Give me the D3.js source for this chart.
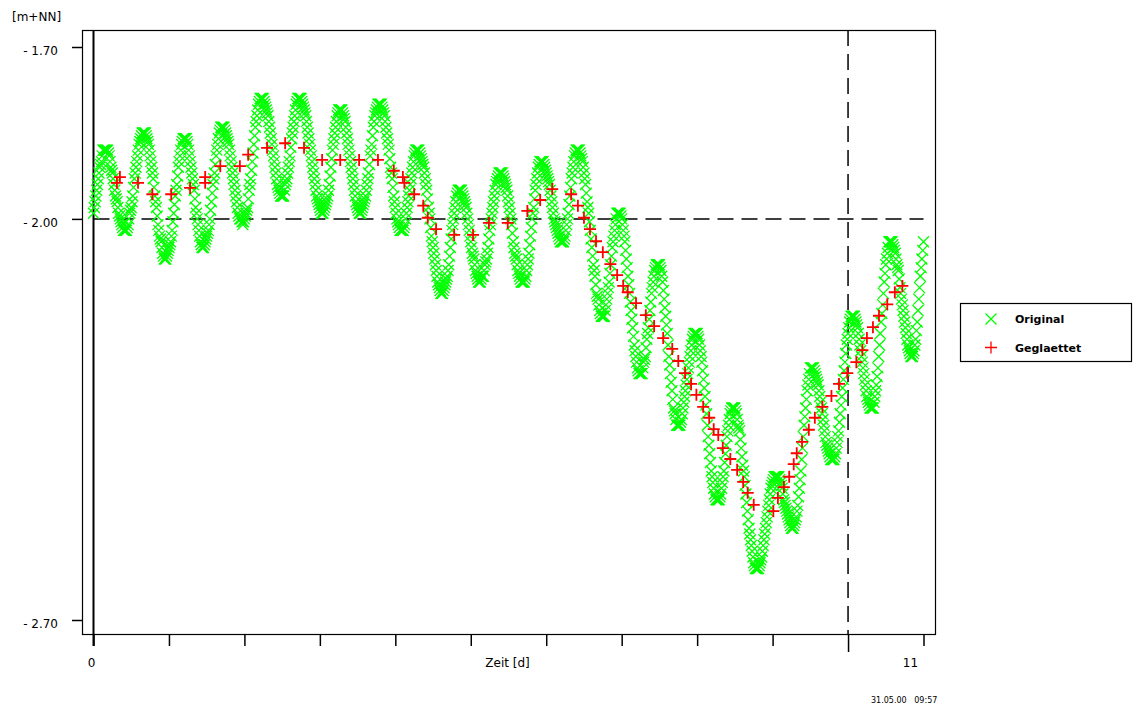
<!DOCTYPE html>
<html>
<head>
<meta charset="utf-8">
<script src="https://cdn.jsdelivr.net/npm/d3@7"></script>
<style>
  body { margin: 0; background: #fff; }
  svg { display: block; font-family: "DejaVu Sans", sans-serif; }
</style>
</head>
<body>
<div id="chart"></div>
<script>
// Wasserstand [m+NN], Originalwerte alle 15 min von Tag 0 bis Tag 11
var originalWerte = [
  -1.99,-1.98,-1.97,-1.96,-1.95,-1.94,-1.93,-1.92,-1.91,-1.905,-1.90,-1.89,-1.88,-1.88,-1.88,-1.88,
  -1.88,-1.88,-1.88,-1.885,-1.89,-1.90,-1.91,-1.915,-1.92,-1.93,-1.94,-1.95,-1.96,-1.965,-1.97,-1.98,-1.99,-1.995,-2.00,-2.005,-2.01,-2.015,-2.02,-2.02,-2.02,-2.02,
  -2.02,-2.015,-2.01,-2.00,-1.99,-1.985,-1.98,-1.97,-1.96,-1.945,-1.93,-1.92,-1.91,-1.90,-1.89,-1.88,-1.87,-1.865,-1.86,-1.855,-1.85,-1.85,-1.85,-1.85,
  -1.85,-1.855,-1.86,-1.865,-1.87,-1.88,-1.89,-1.90,-1.91,-1.92,-1.93,-1.945,-1.96,-1.97,-1.98,-1.995,-2.01,-2.02,-2.03,-2.035,-2.04,-2.05,-2.06,-2.065,-2.07,-2.07,-2.07,-2.065,
  -2.06,-2.055,-2.05,-2.045,-2.04,-2.03,-2.02,-2.005,-1.99,-1.975,-1.96,-1.95,-1.94,-1.925,-1.91,-1.90,-1.89,-1.88,-1.87,-1.865,-1.86,-1.86,-1.86,-1.86,
  -1.86,-1.865,-1.87,-1.88,-1.89,-1.90,-1.91,-1.92,-1.93,-1.94,-1.95,-1.965,-1.98,-1.99,-2.00,-2.01,-2.02,-2.03,-2.04,-2.045,-2.05,-2.05,-2.05,-2.045,
  -2.04,-2.035,-2.03,-2.025,-2.02,-2.01,-2.00,-1.985,-1.97,-1.955,-1.94,-1.93,-1.92,-1.905,-1.89,-1.88,-1.87,-1.86,-1.85,-1.845,-1.84,-1.84,-1.84,-1.84,
  -1.84,-1.845,-1.85,-1.855,-1.86,-1.865,-1.87,-1.88,-1.89,-1.90,-1.91,-1.92,-1.93,-1.94,-1.95,-1.96,-1.97,-1.98,-1.99,-1.995,-2.00,-2.00,-2.00,-2.005,-2.01,-2.005,
  -2.00,-1.995,-1.99,-1.985,-1.98,-1.965,-1.95,-1.94,-1.93,-1.915,-1.90,-1.885,-1.87,-1.855,-1.84,-1.83,-1.82,-1.81,-1.80,-1.795,-1.79,-1.79,-1.79,-1.79,
  -1.79,-1.795,-1.80,-1.805,-1.81,-1.815,-1.82,-1.83,-1.84,-1.85,-1.86,-1.87,-1.88,-1.89,-1.90,-1.91,-1.92,-1.93,-1.94,-1.945,-1.95,-1.955,-1.96,-1.96,-1.96,-1.96,
  -1.96,-1.95,-1.94,-1.935,-1.93,-1.92,-1.91,-1.90,-1.89,-1.875,-1.86,-1.85,-1.84,-1.83,-1.82,-1.81,-1.80,-1.795,-1.79,-1.79,-1.79,-1.79,
  -1.79,-1.795,-1.80,-1.805,-1.81,-1.815,-1.82,-1.83,-1.84,-1.85,-1.86,-1.87,-1.88,-1.89,-1.90,-1.91,-1.92,-1.93,-1.94,-1.95,-1.96,-1.965,-1.97,-1.975,-1.98,-1.985,-1.99,-1.99,-1.99,-1.985,
  -1.98,-1.975,-1.97,-1.965,-1.96,-1.95,-1.94,-1.925,-1.91,-1.895,-1.88,-1.87,-1.86,-1.85,-1.84,-1.83,-1.82,-1.815,-1.81,-1.81,-1.81,-1.81,
  -1.81,-1.815,-1.82,-1.825,-1.83,-1.84,-1.85,-1.86,-1.87,-1.88,-1.89,-1.90,-1.91,-1.92,-1.93,-1.94,-1.95,-1.96,-1.97,-1.975,-1.98,-1.985,-1.99,-1.99,-1.99,-1.985,
  -1.98,-1.975,-1.97,-1.965,-1.96,-1.95,-1.94,-1.93,-1.92,-1.905,-1.89,-1.88,-1.87,-1.855,-1.84,-1.83,-1.82,-1.815,-1.81,-1.805,-1.80,-1.80,-1.80,-1.80,
  -1.80,-1.805,-1.81,-1.815,-1.82,-1.83,-1.84,-1.85,-1.86,-1.87,-1.88,-1.895,-1.91,-1.92,-1.93,-1.945,-1.96,-1.97,-1.98,-1.99,-2.00,-2.005,-2.01,-2.015,-2.02,-2.02,-2.02,-2.02,
  -2.02,-2.015,-2.01,-2.00,-1.99,-1.98,-1.97,-1.96,-1.95,-1.94,-1.93,-1.92,-1.91,-1.90,-1.89,-1.885,-1.88,-1.88,-1.88,-1.88,
  -1.88,-1.885,-1.89,-1.895,-1.90,-1.905,-1.91,-1.92,-1.93,-1.94,-1.95,-1.965,-1.98,-1.99,-2.00,-2.015,-2.03,-2.04,-2.05,-2.06,-2.07,-2.08,-2.09,-2.10,-2.11,-2.115,-2.12,-2.125,-2.13,-2.13,-2.13,-2.125,
  -2.12,-2.115,-2.11,-2.105,-2.10,-2.09,-2.08,-2.065,-2.05,-2.035,-2.02,-2.01,-2.00,-1.99,-1.98,-1.97,-1.96,-1.955,-1.95,-1.95,-1.95,-1.95,
  -1.95,-1.955,-1.96,-1.965,-1.97,-1.975,-1.98,-1.99,-2.00,-2.01,-2.02,-2.03,-2.04,-2.05,-2.06,-2.065,-2.07,-2.08,-2.09,-2.095,-2.10,-2.105,-2.11,-2.11,-2.11,-2.105,
  -2.10,-2.10,-2.10,-2.09,-2.08,-2.075,-2.07,-2.06,-2.05,-2.035,-2.02,-2.01,-2.00,-1.99,-1.98,-1.97,-1.96,-1.95,-1.94,-1.935,-1.93,-1.925,-1.92,-1.92,-1.92,-1.92,
  -1.92,-1.925,-1.93,-1.935,-1.94,-1.945,-1.95,-1.96,-1.97,-1.98,-1.99,-2.00,-2.01,-2.025,-2.04,-2.05,-2.06,-2.065,-2.07,-2.08,-2.09,-2.095,-2.10,-2.105,-2.11,-2.11,-2.11,-2.11,
  -2.11,-2.105,-2.10,-2.09,-2.08,-2.07,-2.06,-2.045,-2.03,-2.015,-2.00,-1.99,-1.98,-1.965,-1.95,-1.94,-1.93,-1.92,-1.91,-1.905,-1.90,-1.90,-1.90,-1.90,
  -1.90,-1.905,-1.91,-1.915,-1.92,-1.925,-1.93,-1.935,-1.94,-1.95,-1.96,-1.97,-1.98,-1.99,-2.00,-2.005,-2.01,-2.015,-2.02,-2.025,-2.03,-2.035,-2.04,-2.04,-2.04,-2.04,
  -2.04,-2.035,-2.03,-2.02,-2.01,-2.00,-1.99,-1.975,-1.96,-1.945,-1.93,-1.92,-1.91,-1.90,-1.89,-1.885,-1.88,-1.88,-1.88,-1.88,
  -1.88,-1.885,-1.89,-1.895,-1.90,-1.91,-1.92,-1.93,-1.94,-1.955,-1.97,-1.98,-1.99,-2.005,-2.02,-2.035,-2.05,-2.065,-2.08,-2.09,-2.10,-2.115,-2.13,-2.135,-2.14,-2.15,-2.16,-2.165,-2.17,-2.17,-2.17,-2.17,
  -2.17,-2.16,-2.15,-2.14,-2.13,-2.12,-2.11,-2.095,-2.08,-2.065,-2.05,-2.04,-2.03,-2.02,-2.01,-2.00,-1.99,-1.99,-1.99,-1.99,
  -1.99,-1.995,-2.00,-2.01,-2.02,-2.03,-2.04,-2.055,-2.07,-2.085,-2.10,-2.115,-2.13,-2.145,-2.16,-2.175,-2.19,-2.205,-2.22,-2.23,-2.24,-2.25,-2.26,-2.265,-2.27,-2.27,-2.27,-2.27,
  -2.27,-2.26,-2.25,-2.245,-2.24,-2.225,-2.21,-2.20,-2.19,-2.175,-2.16,-2.145,-2.13,-2.12,-2.11,-2.10,-2.09,-2.085,-2.08,-2.08,-2.08,-2.08,
  -2.08,-2.085,-2.09,-2.10,-2.11,-2.125,-2.14,-2.155,-2.17,-2.185,-2.20,-2.22,-2.24,-2.255,-2.27,-2.285,-2.30,-2.315,-2.33,-2.335,-2.34,-2.35,-2.36,-2.36,-2.36,-2.36,
  -2.36,-2.355,-2.35,-2.34,-2.33,-2.32,-2.31,-2.30,-2.29,-2.28,-2.27,-2.26,-2.25,-2.24,-2.23,-2.22,-2.21,-2.205,-2.20,-2.20,-2.20,-2.20,
  -2.20,-2.205,-2.21,-2.22,-2.23,-2.24,-2.25,-2.265,-2.28,-2.295,-2.31,-2.325,-2.34,-2.36,-2.38,-2.395,-2.41,-2.425,-2.44,-2.45,-2.46,-2.47,-2.48,-2.485,-2.49,-2.49,-2.49,-2.49,
  -2.49,-2.485,-2.48,-2.47,-2.46,-2.45,-2.44,-2.425,-2.41,-2.395,-2.38,-2.37,-2.36,-2.35,-2.34,-2.335,-2.33,-2.33,-2.33,-2.33,
  -2.33,-2.335,-2.34,-2.35,-2.36,-2.365,-2.37,-2.385,-2.40,-2.415,-2.43,-2.44,-2.45,-2.465,-2.48,-2.495,-2.51,-2.525,-2.54,-2.55,-2.56,-2.57,-2.58,-2.59,-2.60,-2.605,-2.61,-2.61,-2.61,-2.61,
  -2.61,-2.605,-2.60,-2.595,-2.59,-2.58,-2.57,-2.56,-2.55,-2.54,-2.53,-2.52,-2.51,-2.50,-2.49,-2.48,-2.47,-2.465,-2.46,-2.455,-2.45,-2.45,-2.45,-2.45,
  -2.45,-2.45,-2.45,-2.455,-2.46,-2.465,-2.47,-2.48,-2.49,-2.495,-2.50,-2.505,-2.51,-2.515,-2.52,-2.525,-2.53,-2.535,-2.54,-2.54,-2.54,-2.535,
  -2.53,-2.525,-2.52,-2.51,-2.50,-2.485,-2.47,-2.455,-2.44,-2.42,-2.40,-2.38,-2.36,-2.345,-2.33,-2.315,-2.30,-2.29,-2.28,-2.27,-2.26,-2.26,-2.26,-2.26,
  -2.26,-2.265,-2.27,-2.275,-2.28,-2.285,-2.29,-2.30,-2.31,-2.32,-2.33,-2.34,-2.35,-2.36,-2.37,-2.38,-2.39,-2.395,-2.40,-2.405,-2.41,-2.415,-2.42,-2.42,-2.42,-2.42,
  -2.42,-2.415,-2.41,-2.40,-2.39,-2.38,-2.37,-2.355,-2.34,-2.325,-2.31,-2.295,-2.28,-2.265,-2.25,-2.235,-2.22,-2.21,-2.20,-2.19,-2.18,-2.175,-2.17,-2.17,-2.17,-2.17,
  -2.17,-2.175,-2.18,-2.185,-2.19,-2.20,-2.21,-2.22,-2.23,-2.24,-2.25,-2.26,-2.27,-2.28,-2.29,-2.30,-2.31,-2.315,-2.32,-2.325,-2.33,-2.33,-2.33,-2.33,
  -2.33,-2.32,-2.31,-2.30,-2.29,-2.275,-2.26,-2.24,-2.22,-2.20,-2.18,-2.165,-2.15,-2.13,-2.11,-2.095,-2.08,-2.07,-2.06,-2.05,-2.04,-2.04,-2.04,-2.04,
  -2.04,-2.045,-2.05,-2.055,-2.06,-2.07,-2.08,-2.085,-2.09,-2.105,-2.12,-2.13,-2.14,-2.15,-2.16,-2.17,-2.18,-2.19,-2.20,-2.21,-2.22,-2.225,-2.23,-2.235,-2.24,-2.24,-2.24,-2.235,
  -2.23,-2.22,-2.21,-2.195,-2.18,-2.16,-2.14,-2.12,-2.10,-2.085,-2.07,-2.055,-2.04
];
var originalStartTag = 0;
var originalEndTag = 11;

// geglaettete Werte
var glattTage = [
  0.31, 0.35, 0.59, 0.78, 1.03, 1.28, 1.48, 1.48, 1.68, 1.94,
  2.05, 2.30, 2.54, 2.79, 3.03, 3.27, 3.52, 3.77, 3.98, 4.10,
  4.12, 4.25, 4.37, 4.43, 4.54, 4.78, 5.03, 5.24, 5.49, 5.75,
  5.92, 6.08, 6.33, 6.42, 6.50, 6.58, 6.66, 6.75, 6.85, 6.94,
  7.02, 7.08, 7.19, 7.32, 7.43, 7.55, 7.67, 7.75, 7.84, 7.92,
  7.99, 8.08, 8.16, 8.22, 8.28, 8.34, 8.44, 8.53, 8.61, 8.67,
  8.75, 9.01, 9.07, 9.15, 9.22, 9.28, 9.32, 9.39, 9.48, 9.56,
  9.66, 9.78, 9.88, 9.99, 10.11, 10.19, 10.25, 10.33, 10.41, 10.52,
  10.62, 10.72
];
var glattWerte = [
  -1.937, -1.927, -1.937, -1.957, -1.957, -1.946, -1.927, -1.937, -1.908, -1.908,
  -1.888, -1.876, -1.868, -1.876, -1.897, -1.897, -1.897, -1.897, -1.916, -1.927,
  -1.937, -1.957, -1.977, -1.998, -2.018, -2.028, -2.028, -2.007, -2.007, -1.986,
  -1.967, -1.948, -1.957, -1.977, -1.998, -2.018, -2.039, -2.058, -2.079, -2.098,
  -2.117, -2.128, -2.147, -2.168, -2.187, -2.208, -2.227, -2.248, -2.269, -2.288,
  -2.307, -2.328, -2.347, -2.367, -2.377, -2.400, -2.419, -2.438, -2.459, -2.478,
  -2.499, -2.510, -2.487, -2.468, -2.450, -2.428, -2.409, -2.389, -2.368, -2.347,
  -2.328, -2.309, -2.288, -2.269, -2.250, -2.229, -2.208, -2.189, -2.169, -2.149,
  -2.128, -2.117
];

var yTickWerte = [-1.70, -2.00, -2.70];
var yTickTexte = ["- 1.70", "- 2.00", "- 2.70"];
var xTickWerte = [0, 1, 2, 3, 4, 5, 6, 7, 8, 9, 10, 11];
var xTickTexte = ["0", "", "", "", "", "", "", "", "", "", "", "11"];
var bezugsWert = -2.00;
var bezugsTag = 10;
var legendeNamen = ["Original", "Geglaettet"];

var svgWidth = 1136;
var svgHeight = 705;

var rahmen = { left: 82, top: 30, right: 935, bottom: 634 };

var svg = d3.select("#chart")
  .append("svg")
  .attr("width", svgWidth)
  .attr("height", svgHeight);

var xScale = d3.scaleLinear()
  .domain([0, 11])
  .range([93.5, 923.5]);

var yScale = d3.scaleLinear()
  .domain([-1.70, -2.70])
  .range([47, 620]);

// Rahmen
svg.append("rect")
  .attr("x", rahmen.left + 0.5)
  .attr("y", rahmen.top + 0.5)
  .attr("width", rahmen.right - rahmen.left)
  .attr("height", rahmen.bottom - rahmen.top)
  .attr("fill", "none")
  .attr("stroke", "#000")
  .attr("stroke-width", 1.2);

// y-Achse
var yAxis = d3.axisLeft(yScale)
  .tickValues(yTickWerte)
  .tickSize(10)
  .tickPadding(14)
  .tickFormat(function(d, i) { return yTickTexte[i]; });

var yG = svg.append("g")
  .attr("transform", "translate(" + rahmen.left + ",0)")
  .call(yAxis);
yG.select(".domain").remove();
yG.selectAll("line").attr("stroke-width", 1.5);
yG.selectAll("text")
  .attr("font-size", 12)
  .attr("font-family", "DejaVu Sans")
  .attr("fill", "#000")
  .attr("dy", "0.62em");

// x-Achse
var xAxis = d3.axisBottom(xScale)
  .tickValues(xTickWerte)
  .tickSize(12)
  .tickFormat("");

var xG = svg.append("g")
  .attr("transform", "translate(0," + rahmen.bottom + ")")
  .call(xAxis);
xG.select(".domain").remove();
xG.selectAll("line").attr("stroke-width", 1.5);
xG.selectAll(".tick").filter(function(d) { return d === bezugsTag; })
  .select("line").attr("y2", 18);

var xLabelOffset = [-2, 0, 0, 0, 0, 0, 0, 0, 0, 0, 0, -13];
svg.selectAll(".xlabel")
  .data(xTickWerte)
  .enter()
  .append("text")
  .attr("class", "xlabel")
  .attr("x", function(d, i) { return xScale(d) + xLabelOffset[i]; })
  .attr("y", 667)
  .attr("text-anchor", "middle")
  .attr("font-size", 12)
  .text(function(d, i) { return xTickTexte[i]; });

svg.append("text")
  .attr("x", (xScale(0) + xScale(11)) / 2 - 1)
  .attr("y", 667)
  .attr("text-anchor", "middle")
  .attr("font-size", 12)
  .text("Zeit [d]");

svg.append("text")
  .attr("x", 12)
  .attr("y", 21)
  .attr("font-size", 12)
  .text("[m+NN]");

// Nulllinie
svg.append("line")
  .attr("x1", xScale(0)).attr("x2", xScale(0))
  .attr("y1", rahmen.top).attr("y2", rahmen.bottom + 12)
  .attr("stroke", "#000")
  .attr("stroke-width", 2);

// gestrichelte Bezugslinien
svg.append("line")
  .attr("x1", xScale(0)).attr("x2", xScale(11))
  .attr("y1", yScale(bezugsWert)).attr("y2", yScale(bezugsWert))
  .attr("stroke", "#000")
  .attr("stroke-width", 1.5)
  .attr("stroke-dasharray", "16,8");

svg.append("line")
  .attr("x1", xScale(bezugsTag)).attr("x2", xScale(bezugsTag))
  .attr("y1", rahmen.top).attr("y2", rahmen.bottom)
  .attr("stroke", "#000")
  .attr("stroke-width", 1.5)
  .attr("stroke-dasharray", "16,8");

var kreuzPfad = "M-5.5,-5.5L5.5,5.5M5.5,-5.5L-5.5,5.5";
var plusPfad = "M-6,0L6,0M0,-6L0,6";

// Originalwerte, gleichmaessig ueber den Zeitraum
var originalSchritt = (originalEndTag - originalStartTag) / (originalWerte.length - 1);

svg.append("g").selectAll("path")
  .data(originalWerte)
  .enter()
  .append("path")
  .attr("d", kreuzPfad)
  .attr("transform", function(d, i) {
    return "translate(" + xScale(originalStartTag + i * originalSchritt) + "," + yScale(d) + ")";
  })
  .attr("fill", "none")
  .attr("stroke", "#00ff00")
  .attr("stroke-width", 1.3);

// geglaettet
svg.append("g").selectAll("path")
  .data(glattWerte)
  .enter()
  .append("path")
  .attr("d", plusPfad)
  .attr("transform", function(d, i) {
    return "translate(" + xScale(glattTage[i]) + "," + yScale(d) + ")";
  })
  .attr("fill", "none")
  .attr("stroke", "#ff0000")
  .attr("stroke-width", 1.8);

// Legende
svg.append("rect")
  .attr("x", 960.5)
  .attr("y", 303.5)
  .attr("width", 171)
  .attr("height", 58)
  .attr("fill", "#fff")
  .attr("stroke", "#000")
  .attr("stroke-width", 1.2);

var legendeFarben = ["#00ff00", "#ff0000"];
var legendePfade = [kreuzPfad, plusPfad];

legendeNamen.forEach(function(name, i) {
  var ly = 319 + i * 28.5;
  svg.append("path")
    .attr("d", legendePfade[i])
    .attr("transform", "translate(991," + ly + ")")
    .attr("fill", "none")
    .attr("stroke", legendeFarben[i])
    .attr("stroke-width", 1.3);
  svg.append("text")
    .attr("x", 1015)
    .attr("y", ly + 4)
    .attr("font-size", 11)
    .attr("font-weight", "bold")
    .text(name);
});

// Datum
svg.append("text")
  .attr("x", 871)
  .attr("y", 703)
  .attr("font-size", 8)
  .attr("xml:space", "preserve")
  .style("white-space", "pre")
  .text("31.05.00   09:57");
</script>
</body>
</html>
